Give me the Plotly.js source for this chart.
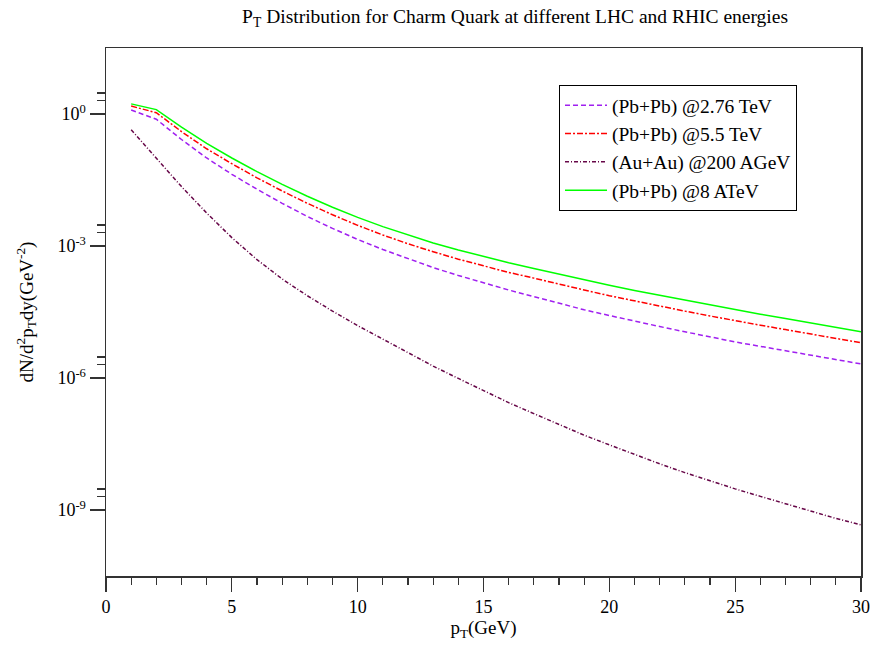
<!DOCTYPE html>
<html>
<head>
<meta charset="utf-8">
<script src="https://cdn.plot.ly/plotly-3.0.1.min.js"></script>
<style>html,body{margin:0;padding:0;background:#fff;}#chart{width:873px;height:649px;}</style>
</head>
<body>
<div id="chart"></div>
<script>
// pT values (GeV)
const pT = [1,2,3,4,5,6,7,8,9,10,11,12,13,14,15,16,17,18,19,20,21,22,23,24,25,26,27,28,29,30];

// log10 of dN/d^2pT dy
const log10_PbPb_276 = [0.09,-0.12,-0.58,-1.00,-1.37,-1.71,-2.03,-2.33,-2.60,-2.85,-3.08,-3.29,-3.49,-3.67,-3.84,-4.00,-4.15,-4.30,-4.45,-4.58,-4.71,-4.83,-4.95,-5.07,-5.18,-5.28,-5.38,-5.48,-5.58,-5.68];
const log10_PbPb_55  = [0.18,0.03,-0.40,-0.79,-1.13,-1.45,-1.75,-2.03,-2.29,-2.53,-2.75,-2.95,-3.13,-3.30,-3.45,-3.60,-3.73,-3.87,-4.00,-4.13,-4.25,-4.37,-4.48,-4.59,-4.70,-4.80,-4.90,-5.00,-5.10,-5.20];
const log10_AuAu_200 = [-0.36,-1.01,-1.65,-2.25,-2.81,-3.31,-3.75,-4.13,-4.48,-4.81,-5.12,-5.43,-5.73,-6.01,-6.29,-6.56,-6.81,-7.06,-7.30,-7.52,-7.74,-7.95,-8.15,-8.34,-8.52,-8.69,-8.86,-9.03,-9.19,-9.34];
const log10_PbPb_8   = [0.23,0.10,-0.30,-0.67,-1.00,-1.31,-1.60,-1.87,-2.12,-2.35,-2.56,-2.75,-2.93,-3.09,-3.24,-3.38,-3.51,-3.64,-3.77,-3.89,-4.01,-4.12,-4.23,-4.34,-4.45,-4.55,-4.65,-4.75,-4.85,-4.95];

const seriesNames = ['(Pb+Pb) @2.76 TeV','(Pb+Pb) @5.5 TeV','(Au+Au) @200 AGeV','(Pb+Pb) @8 ATeV'];

const yTickVals = [1, 1e-3, 1e-6, 1e-9];
const yTickText = ['10<sup>0</sup>','10<sup>-3</sup>','10<sup>-6</sup>','10<sup>-9</sup>'];
const yMinorVals = [2,3,2e-3,3e-3,2e-6,3e-6,2e-9,3e-9];

const toVal = a => a.map(v => Math.pow(10, v));
const FONT = 'Liberation Serif, Times New Roman, serif';

const traces = [
  {x: pT, y: toVal(log10_PbPb_276), name: seriesNames[0], mode: 'lines',
   line: {color: '#a020f0', width: 1.5, dash: '5px,3px'}},
  {x: pT, y: toVal(log10_PbPb_55), name: seriesNames[1], mode: 'lines',
   line: {color: '#ff0000', width: 1.5, dash: '6px,2px,2px,2px'}},
  {x: pT, y: toVal(log10_AuAu_200), name: seriesNames[2], mode: 'lines',
   line: {color: '#670748', width: 1.5, dash: '4px,2px,1px,2px'}},
  {x: pT, y: toVal(log10_PbPb_8), name: seriesNames[3], mode: 'lines',
   line: {color: '#00ff00', width: 1.5}}
];

const layout = {
  width: 873, height: 649,
  margin: {l: 106, r: 12, t: 48, b: 73},
  paper_bgcolor: '#fff', plot_bgcolor: '#fff',
  font: {family: FONT, size: 18, color: '#000'},
  title: {text: 'P<sub>T</sub> Distribution for Charm Quark at different LHC and RHIC energies',
          font: {family: FONT, size: 19.5, color: '#000'}, x: 0.59, xanchor: 'center', y: 0.975, yanchor: 'middle'},
  showlegend: true,
  legend: {x: 0.6, y: 0.93, xanchor: 'left', yanchor: 'top', bgcolor: '#fff',
           bordercolor: '#000', borderwidth: 1, font: {family: FONT, size: 19.5, color: '#000'},
           tracegroupgap: 0, itemwidth: 42},
  xaxis: {range: [0, 30], tickmode: 'linear', tick0: 0, dtick: 5, ticks: 'outside', ticklen: 14,
          tickwidth: 1.2, tickcolor: '#333', showgrid: false, zeroline: false,
          showline: true, linecolor: '#333', linewidth: 1.5, mirror: true,
          minor: {tickmode: 'linear', tick0: 0, dtick: 1, ticks: 'outside', ticklen: 7, tickwidth: 1.2, tickcolor: '#333', showgrid: false},
          tickfont: {family: FONT, size: 18, color: '#000'},
          title: {text: 'p<sub>T</sub>(GeV)', font: {family: FONT, size: 19, color: '#000'}, standoff: 4}},
  yaxis: {type: 'log', range: [-10.5, 1.5], tickmode: 'array', tickvals: yTickVals, ticktext: yTickText,
          ticks: 'outside', ticklen: 15, tickwidth: 1.2, tickcolor: '#333', showgrid: false, zeroline: false,
          showline: true, linecolor: '#333', linewidth: 1.5, mirror: true,
          minor: {tickmode: 'array', tickvals: yMinorVals, ticks: 'outside', ticklen: 8, tickwidth: 1.2, tickcolor: '#333', showgrid: false},
          tickfont: {family: FONT, size: 18, color: '#000'},
          title: {text: 'dN/d<sup>2</sup>p<sub>T</sub>dy(GeV<sup>-2</sup>)', font: {family: FONT, size: 19, color: '#000'}, standoff: 19}}
};

Plotly.newPlot('chart', traces, layout, {displayModeBar: false, staticPlot: true});
</script>
</body>
</html>
